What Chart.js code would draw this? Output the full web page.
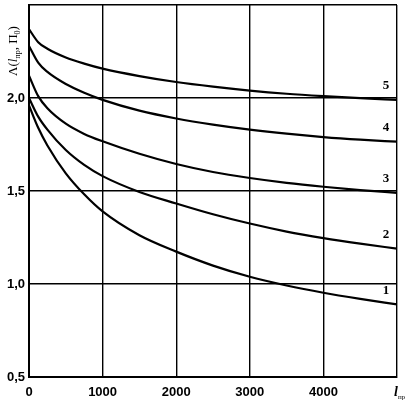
<!DOCTYPE html>
<html>
<head>
<meta charset="utf-8">
<script src="https://cdn.jsdelivr.net/npm/chart.js@4"></script>
<style>
  html, body { margin: 0; padding: 0; background: #fff; }
  #wrap { width: 408px; height: 405px; }
</style>
</head>
<body>
<div id="wrap"><canvas id="lambda"></canvas></div>
<script>
// l_pr values where the curves were read
const lengths = [0, 125, 250, 500, 750, 1000, 1500, 2000, 2500, 3000, 3500, 4000, 4500, 5000];

// curves 1..5
const curve1 = [1.96, 1.84, 1.745, 1.595, 1.482, 1.39, 1.262, 1.174, 1.099, 1.039, 0.992, 0.953, 0.92, 0.89];
const curve2 = [2.00, 1.90, 1.83, 1.72, 1.64, 1.58, 1.495, 1.433, 1.375, 1.325, 1.282, 1.247, 1.217, 1.19];
const curve3 = [2.12, 2.01, 1.945, 1.862, 1.807, 1.767, 1.70, 1.645, 1.602, 1.57, 1.544, 1.523, 1.505, 1.49];
const curve4 = [2.28, 2.19, 2.14, 2.075, 2.028, 1.99, 1.932, 1.89, 1.857, 1.83, 1.808, 1.79, 1.776, 1.765];
const curve5 = [2.37, 2.30, 2.265, 2.218, 2.185, 2.158, 2.118, 2.086, 2.061, 2.04, 2.023, 2.01, 1.999, 1.99];

const curveNames = ['1', '2', '3', '4', '5'];
const xTicks = [0, 1000, 2000, 3000, 4000, 5000];
const yTicks = [0.5, 1.0, 1.5, 2.0, 2.5];

function toPoints(vals) {
    return vals.map((v, i) => ({ x: lengths[i], y: v }));
}

const datasets = [curve1, curve2, curve3, curve4, curve5].map((c, i) => ({
    label: curveNames[i],
    data: toPoints(c),
    borderColor: '#000',
    borderWidth: 2.2,
    pointRadius: 0,
    fill: false,
    cubicInterpolationMode: 'monotone'
}));

// curve numbers, the axis titles with subscripts
const textPlugin = {
    id: 'texts',
    afterDatasetsDraw(chart) {
        const ctx = chart.ctx;
        const xs = chart.scales.x, ys = chart.scales.y;
        ctx.save();
        ctx.fillStyle = '#000';

        // numbers over the right end of each curve
        ctx.font = 'bold 13px "Liberation Serif"';
        ctx.textAlign = 'center';
        ctx.textBaseline = 'middle';
        chart.data.datasets.forEach((ds) => {
            const last = ds.data[ds.data.length - 1];
            const px = xs.getPixelForValue(4850);
            const py = ys.getPixelForValue(last.y) - 14;
            ctx.fillText(ds.label, px, py);
        });

        // x title in place of the last tick label
        ctx.textAlign = 'left';
        ctx.textBaseline = 'alphabetic';
        let x0 = xs.getPixelForValue(5000) - 3;
        let y0 = 396;
        ctx.font = 'italic bold 14px "Liberation Serif"';
        ctx.fillText('l', x0, y0);
        x0 += ctx.measureText('l').width;
        ctx.font = '7px "Liberation Serif"';
        ctx.fillText('пр', x0, y0 + 3);

        // y title, rotated
        ctx.translate(17, 76);
        ctx.rotate(-Math.PI / 2);
        let tx = 0;
        const parts = [
            ['Λ(', '13px "Liberation Serif"', 0],
            ['l', 'italic 13px "Liberation Serif"', 0],
            ['пр', '8px "Liberation Serif"', 3],
            [', П', '13px "Liberation Serif"', 0],
            ['0', '8px "Liberation Serif"', 3],
            [')', '13px "Liberation Serif"', 0]
        ];
        parts.forEach(([t, f, dy]) => {
            ctx.font = f;
            ctx.fillText(t, tx, dy);
            tx += ctx.measureText(t).width;
        });
        ctx.restore();
    }
};

const config = {
    type: 'line',
    data: { datasets: datasets },
    options: {
        responsive: true,
        maintainAspectRatio: false,
        animation: false,
        layout: {
            padding: { top: 5, right: 11, left: 0, bottom: 0 }
        },
        scales: {
            x: {
                type: 'linear',
                min: 0,
                max: 5000,
                afterFit: (s) => { s.height = 28; s.paddingLeft = 0; s.paddingRight = 0; },
                afterBuildTicks: (s) => { s.ticks = xTicks.map(v => ({ value: v })); },
                grid: { color: '#000', lineWidth: 1.4, drawTicks: false },
                border: { color: '#000', width: 2 },
                ticks: {
                    padding: 8,
                    color: '#000',
                    font: { family: '"Liberation Sans"', size: 13, weight: 'bold' },
                    callback: (v) => v === 5000 ? '' : String(v)
                }
            },
            y: {
                type: 'linear',
                min: 0.5,
                max: 2.5,
                afterFit: (s) => { s.width = 29; s.paddingTop = 0; s.paddingBottom = 0; },
                afterBuildTicks: (s) => { s.ticks = yTicks.map(v => ({ value: v })); },
                grid: { color: '#000', lineWidth: 1.4, drawTicks: false },
                border: { color: '#000', width: 2 },
                ticks: {
                    padding: 4,
                    color: '#000',
                    font: { family: '"Liberation Sans"', size: 13, weight: 'bold' },
                    callback: (v) => v === 2.5 ? '' : v.toFixed(1).replace('.', ',')
                }
            }
        },
        plugins: {
            legend: { display: false },
            tooltip: { enabled: false }
        }
    },
    plugins: [textPlugin]
};

const chart = new Chart('lambda', config);
</script>
</body>
</html>
